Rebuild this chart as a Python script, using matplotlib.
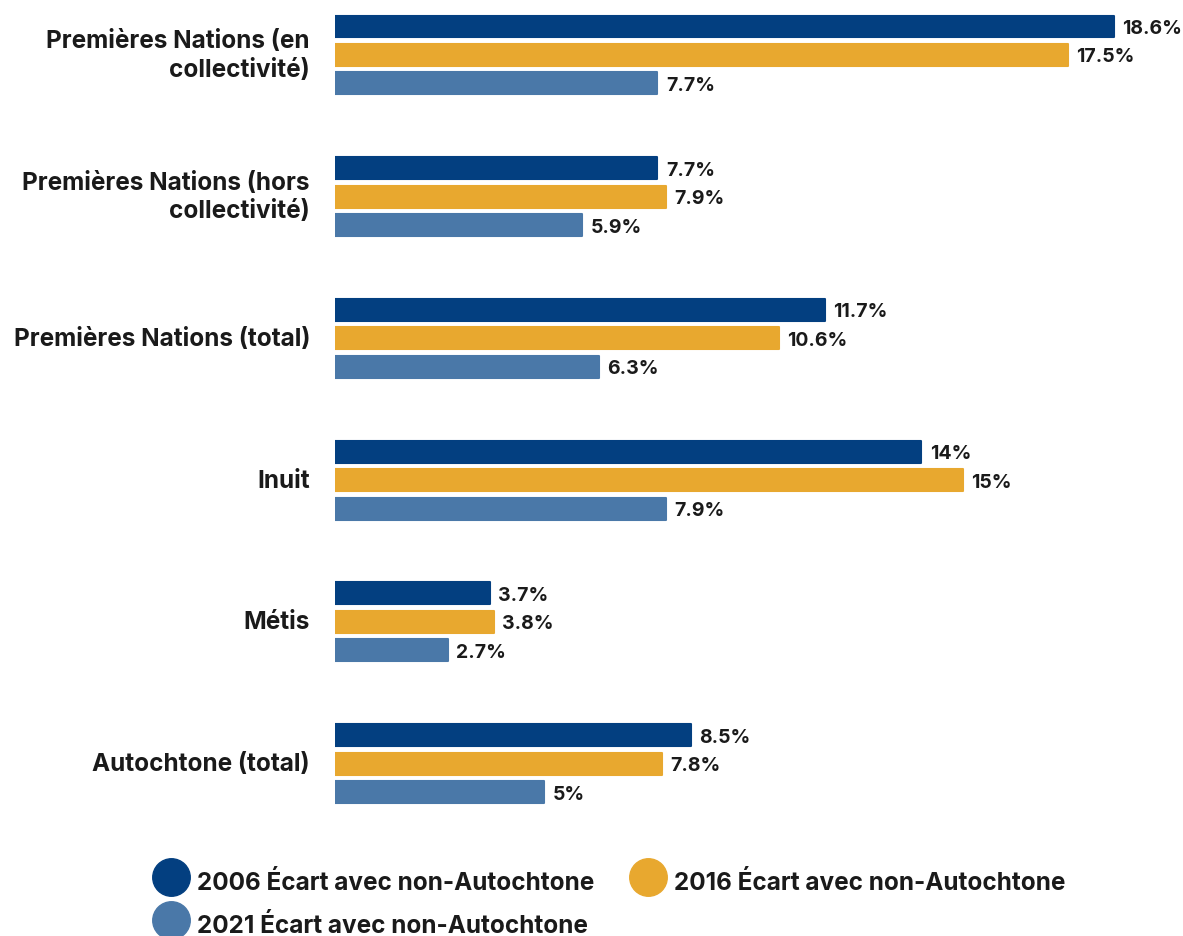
import matplotlib
matplotlib.use("Agg")
import matplotlib.pyplot as plt
from matplotlib.lines import Line2D
import numpy as np

plt.rcParams['font.family'] = ['Inter', 'DejaVu Sans']
plt.rcParams['font.weight'] = 'bold'

categories = [
    "Premières Nations (en\ncollectivité)",
    "Premières Nations (hors\ncollectivité)",
    "Premières Nations (total)",
    "Inuit",
    "Métis",
    "Autochtone (total)",
]
gap_2006 = [18.6, 7.7, 11.7, 14, 3.7, 8.5]
gap_2016 = [17.5, 7.9, 10.6, 15, 3.8, 7.8]
gap_2021 = [7.7, 5.9, 6.3, 7.9, 2.7, 5]
labels_2006 = ["18.6%", "7.7%", "11.7%", "14%", "3.7%", "8.5%"]
labels_2016 = ["17.5%", "7.9%", "10.6%", "15%", "3.8%", "7.8%"]
labels_2021 = ["7.7%", "5.9%", "6.3%", "7.9%", "2.7%", "5%"]
series_names = [
    "2006 Écart avec non-Autochtone",
    "2016 Écart avec non-Autochtone",
    "2021 Écart avec non-Autochtone",
]
colors = ["#033f80", "#e8a82f", "#4a78a8"]

W, H = 1183, 937
fig = plt.figure(figsize=(W / 100, H / 100), dpi=100)
fig.patch.set_facecolor("white")
ax = fig.add_axes([335 / W, 1 - 820 / H, (W - 335) / W, 820 / H])
ax.set_xlim(0, 20.25)
ax.set_ylim(5.39, -0.395)
ax.axis("off")

y = np.arange(len(categories))
offset = 0.201
height = 0.155
series = [(gap_2006, labels_2006), (gap_2016, labels_2016), (gap_2021, labels_2021)]
for k, ((vals, labs), col) in enumerate(zip(series, colors)):
    pos = y + (k - 1) * offset
    bars = ax.barh(pos, vals, height=height, color=col, edgecolor=col,
                   linewidth=1.5, joinstyle="round")
    for b, lab in zip(bars, labs):
        ax.annotate(lab, (b.get_width(), b.get_y() + b.get_height() / 2),
                    xytext=(6, -1), textcoords="offset points",
                    ha="left", va="center", fontsize=14,
                    fontweight="bold", color="#1a1a1a")

for yi, cat in zip(y, categories):
    ax.annotate(cat, (0, yi), xytext=(-25, 0), textcoords="offset pixels",
                ha="right", va="center", fontsize=17.5, fontweight="bold",
                color="#1a1a1a", linespacing=1.3, annotation_clip=False)

# legend fills column-wise, so order the entries to read row by row
order = [0, 2, 1]
handles = [Line2D([0], [0], marker="o", linestyle="none", markersize=27,
                  markerfacecolor=colors[i], markeredgecolor=colors[i])
           for i in order]
fig.legend(handles, [series_names[i] for i in order], loc="upper left",
           bbox_to_anchor=(152 / W, 1 - 867 / H), ncol=2, frameon=False,
           handlelength=1.55, handleheight=1.5,
           handletextpad=0.3, columnspacing=1.45, labelspacing=0.55,
           borderpad=0, borderaxespad=0, labelcolor="#1a1a1a",
           prop={"weight": "bold", "size": 17.5})

fig.savefig("out.png", dpi=100, facecolor="white")
